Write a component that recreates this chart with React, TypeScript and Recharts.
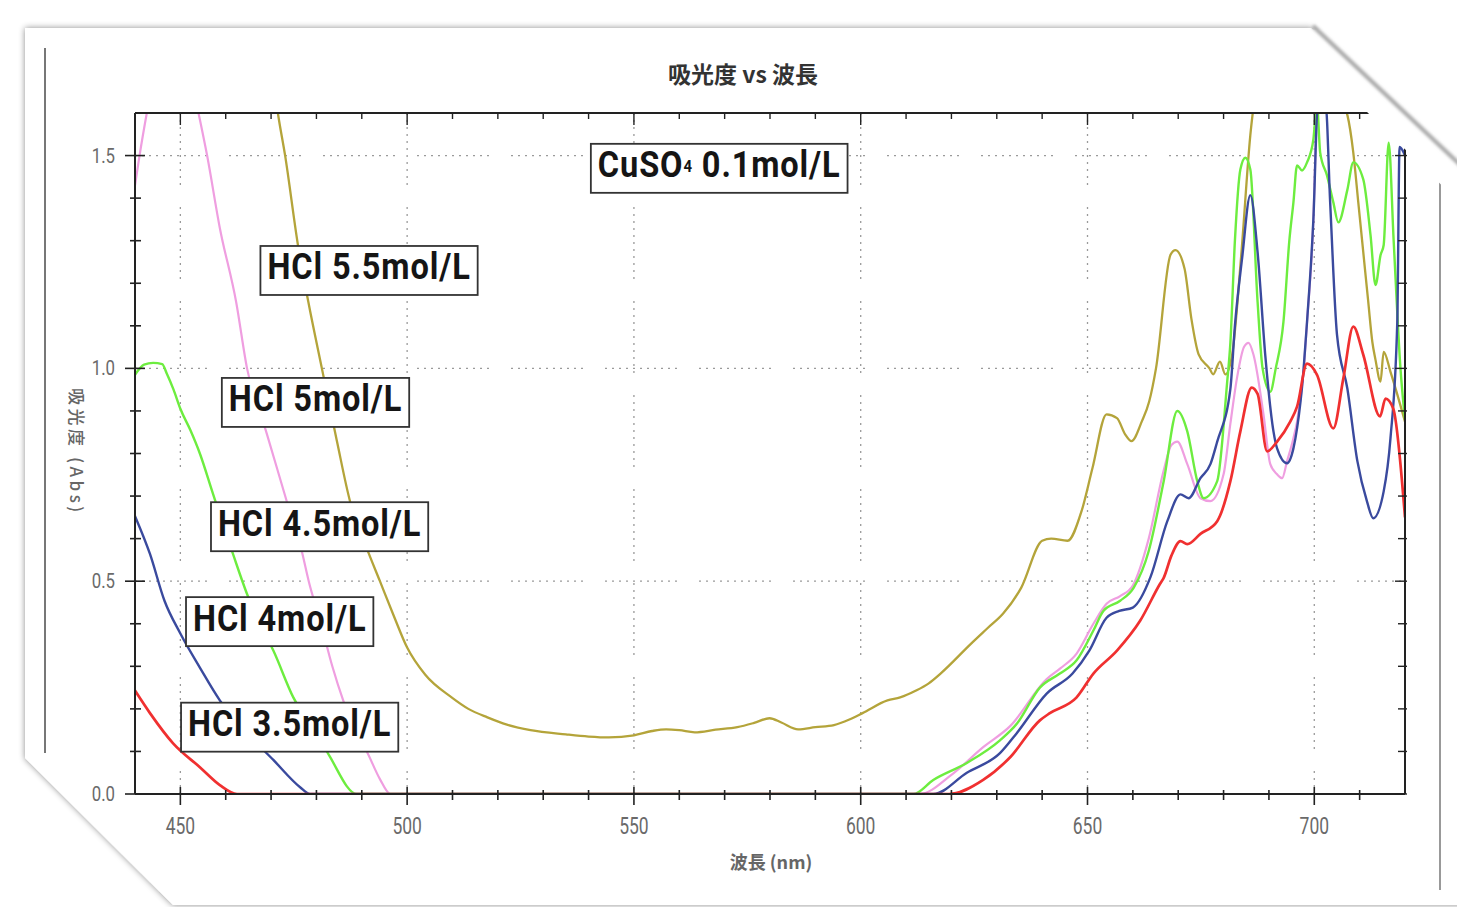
import React, { useLayoutEffect, useRef, useState } from 'react';
import { LineChart, Line, XAxis, YAxis, CartesianGrid, ReferenceDot } from 'recharts';

// ---------- axis ticks / labels ----------
const X_TICKS = [450, 460, 470, 480, 490, 500, 510, 520, 530, 540, 550, 560, 570, 580, 590, 600, 610, 620, 630, 640, 650, 660, 670, 680, 690, 700, 710];
const X_LABELED = [450, 500, 550, 600, 650, 700];
const Y_TICKS = [0, 0.1, 0.2, 0.3, 0.4, 0.5, 0.6, 0.7, 0.8, 0.9, 1.0, 1.1, 1.2, 1.3, 1.4, 1.5];
const Y_LABELED = [0, 0.5, 1.0, 1.5];
const X_DOMAIN = [440, 720];
const Y_DOMAIN = [0, 1.6];

const TITLE = '吸光度 vs 波長';
const X_TITLE = '波長 (nm)';
const Y_TITLE = '吸光度 (Abs)';

// ---------- series: [wavelength nm, absorbance] ----------
const HCL_55: [number, number][] = [
  [440, 3.6], [455, 2.6], [465, 2.0], [470, 1.72], [471.5, 1.6], [473.1, 1.5], [476.0, 1.285], [478.2, 1.157],
  [481.2, 1.0], [484.5, 0.83], [487.4, 0.688], [491, 0.58], [494.0, 0.5], [497, 0.42], [500.0, 0.344], [504, 0.28],
  [509.8, 0.227], [513.5, 0.2], [517.7, 0.18], [522, 0.163], [527.2, 0.15], [535, 0.14], [540, 0.135], [544.5, 0.133],
  [550.0, 0.138], [554, 0.148], [557.1, 0.152], [560, 0.15], [563.4, 0.145], [568, 0.151], [572.8, 0.157],
  [576.5, 0.167], [579.9, 0.178], [582.5, 0.168], [586.2, 0.152], [590, 0.157], [594.1, 0.162], [597.5, 0.175],
  [600.4, 0.19], [605.9, 0.22], [608.7, 0.227], [612.2, 0.243], [615, 0.26], [617.6, 0.283], [624.4, 0.354],
  [628, 0.39], [631.4, 0.424], [635.4, 0.485], [640.0, 0.595], [642, 0.6], [645.6, 0.595], [648.7, 0.665],
  [651.1, 0.766], [654.2, 0.892], [656.5, 0.883], [658.3, 0.845], [659.7, 0.829], [662.0, 0.876], [663.6, 0.922],
  [665.1, 1.0], [668.3, 1.267], [669.4, 1.278], [671.4, 1.234], [672.9, 1.117], [674.5, 1.033], [676.9, 1.0],
  [677.7, 0.986], [679.2, 1.016], [680.4, 0.986], [681.9, 1.033], [683.9, 1.267], [685.9, 1.548], [687, 1.65],
  [690, 1.9], [697, 2.0], [703, 1.85], [706.2, 1.62], [707.3, 1.595], [708.6, 1.507], [709.7, 1.39], [710.8, 1.273],
  [711.9, 1.156], [712.8, 1.062], [713.5, 1.02], [714.6, 0.969], [715.3, 1.039], [716.8, 0.992], [718.3, 0.939],
  [720, 0.875],
];

const HCL_50: [number, number][] = [
  [440, 1.43], [441, 1.5], [442.6, 1.6], [444, 1.68], [448, 1.75], [452, 1.7], [454, 1.6], [455.9, 1.5],
  [458.7, 1.33], [462.3, 1.156], [464.7, 1.0], [469.1, 0.845], [473.5, 0.686], [476.8, 0.569], [478.3, 0.5],
  [481, 0.4], [483.5, 0.3], [485.9, 0.22], [489, 0.14], [491.1, 0.1], [494, 0.035], [496.3, 0], [613, 0],
  [620, 0.045], [627, 0.11], [633, 0.16], [641, 0.27], [644, 0.295], [647.6, 0.33], [651.3, 0.4], [654.2, 0.447],
  [657.2, 0.465], [660, 0.49], [663.5, 0.6], [666.8, 0.76], [668.5, 0.82], [669.8, 0.828], [672, 0.775],
  [674.9, 0.695], [677.1, 0.688], [680, 0.751], [681.5, 0.87], [683, 0.98], [684.5, 1.05], [685.5, 1.06],
  [686.6, 1.032], [688.8, 0.892], [690.3, 0.775], [691.8, 0.751], [692.9, 0.742], [694, 0.782], [695.4, 0.836],
  [696.2, 0.875], [697.6, 0.99], [698.4, 1.109], [699.8, 1.35], [700.6, 1.62], [703, 1.9], [710, 2.0], [720, 2.0],
];

const HCL_45: [number, number][] = [
  [440, 0.985], [442, 1.009], [444, 1.013], [446, 1.01], [447, 0.988], [448.5, 0.95], [450, 0.905], [452.2, 0.855],
  [454.3, 0.8], [457.2, 0.705], [461.6, 0.564], [464.7, 0.47], [467.5, 0.4], [470.5, 0.337], [474.9, 0.227],
  [480.1, 0.143], [483, 0.087], [488.9, 0],
  [611.6, 0], [616, 0.033], [623.4, 0.073], [630.7, 0.126], [634.5, 0.166], [639.5, 0.25], [643.9, 0.283],
  [647.6, 0.314], [651.3, 0.384], [653.5, 0.43], [657.2, 0.454], [660.2, 0.485], [663.5, 0.571], [666.8, 0.735],
  [669.8, 0.9], [672, 0.852], [674.2, 0.735], [675.6, 0.695], [678.6, 0.735], [680.8, 0.969], [681.5, 1.06],
  [682.5, 1.3], [683.7, 1.467], [684.8, 1.495], [685.9, 1.467], [687.5, 1.156], [688.6, 1.0], [690.3, 0.945],
  [691.5, 1.0], [693.2, 1.109], [694.5, 1.3], [695.4, 1.39], [696.2, 1.477], [697.3, 1.465], [698.4, 1.484],
  [699.8, 1.538], [700.6, 1.62], [701.3, 1.507], [702.8, 1.453], [704.2, 1.39], [705.3, 1.343], [707.3, 1.42],
  [708.6, 1.484], [710.8, 1.444], [712.4, 1.313], [713.5, 1.196], [714.6, 1.266], [715.3, 1.29], [716.4, 1.53],
  [717.5, 1.3], [719, 1.0], [720, 0.88],
];

const HCL_40: [number, number][] = [
  [440, 0.653], [443.3, 0.564], [446.5, 0.454], [450, 0.377], [454.3, 0.297], [458.7, 0.22], [464.7, 0.143],
  [470.5, 0.08], [476.4, 0.016], [478.6, 0], [616, 0], [623.4, 0.05], [630.7, 0.096], [634.4, 0.143], [641, 0.236],
  [646.7, 0.283], [650.4, 0.337], [654.2, 0.414], [657, 0.43], [660, 0.438], [663.9, 0.51], [667.6, 0.641],
  [670.5, 0.704], [672.3, 0.695], [674.9, 0.742], [677.1, 0.775], [678.6, 0.828], [681.5, 0.952], [682.5, 1.1],
  [684.1, 1.26], [685.9, 1.407], [687.5, 1.273], [689.2, 1.03], [691, 0.852], [691.8, 0.812], [694, 0.777],
  [695.4, 0.812], [696.2, 0.859], [697.6, 0.992], [698.4, 1.109], [699.8, 1.35], [700.8, 1.62], [702.5, 1.62],
  [703.5, 1.39], [705, 1.08], [707.3, 0.952], [709.5, 0.782], [711.6, 0.688], [713, 0.648], [715.3, 0.711],
  [716.8, 0.836], [718.3, 1.109], [718.8, 1.52], [720, 1.5],
];

const HCL_35: [number, number][] = [
  [440, 0.243], [443.3, 0.19], [448.4, 0.119], [454.3, 0.063], [458.7, 0.021], [462.5, 0], [619.5, 0],
  [627, 0.033], [633, 0.087], [639.5, 0.173], [641.7, 0.19], [647.6, 0.227], [651.3, 0.283], [656.5, 0.337],
  [661.6, 0.407], [666, 0.494], [666.8, 0.508], [668.5, 0.56], [670.5, 0.594], [672, 0.587], [674.9, 0.611],
  [678.6, 0.641], [681.5, 0.735], [683.7, 0.852], [686.2, 0.955], [687.5, 0.94], [689.6, 0.805], [691.8, 0.828],
  [694.7, 0.875], [696.2, 0.91], [698.4, 1.011], [700.6, 0.985], [704.2, 0.859], [706.4, 0.976], [708.6, 1.098],
  [710.8, 1.032], [714.5, 0.887], [715.7, 0.929], [717.4, 0.906], [720, 0.65],
];

// ---------- annotations (anchored in data coordinates) ----------
const ANNOTATIONS = [
  { id: 'cuso4', text: 'CuSO', sub: '4', rest: ' 0.1mol/L', x: 568.8, y: 1.47 },
  { id: 'h55', text: 'HCl 5.5mol/L', sub: '', rest: '', x: 491.6, y: 1.23 },
  { id: 'h50', text: 'HCl 5mol/L', sub: '', rest: '', x: 479.8, y: 0.92 },
  { id: 'h45', text: 'HCl 4.5mol/L', sub: '', rest: '', x: 480.7, y: 0.628 },
  { id: 'h40', text: 'HCl 4mol/L', sub: '', rest: '', x: 471.9, y: 0.405 },
  { id: 'h35', text: 'HCl 3.5mol/L', sub: '', rest: '', x: 474.1, y: 0.157 },
];

const SERIES = [
  { key: 'HCl 5.5mol/L', data: HCL_55, color: '#b4a43a', width: 2.3 },
  { key: 'HCl 5mol/L', data: HCL_50, color: '#ef9ee0', width: 2.2 },
  { key: 'HCl 4.5mol/L', data: HCL_45, color: '#6ded3f', width: 2.4 },
  { key: 'HCl 4mol/L', data: HCL_40, color: '#3a4a9e', width: 2.4 },
  { key: 'HCl 3.5mol/L', data: HCL_35, color: '#f03030', width: 2.7 },
];

const SANS = "Roboto, 'Liberation Sans', sans-serif";
const CJK = "'Noto Sans CJK JP', 'Noto Sans CJK SC', sans-serif";
const AXIS_COLOR = '#222';

const isMajorX = (v: number) => X_LABELED.includes(v);
const isMajorY = (v: number) => Y_LABELED.some((m) => Math.abs(m - v) < 1e-6);

function BottomTick(props: any) {
  const { x, y, payload } = props;
  const major = isMajorX(payload.value);
  return (
    <g>
      <line x1={x} x2={x} y1={y - (major ? 7 : 4)} y2={y + (major ? 11 : 6)} stroke={AXIS_COLOR} strokeWidth={1.6} />
      {major && (
        <text transform={`translate(${x} ${y + 40}) scale(0.76 1)`} textAnchor="middle" fontFamily={SANS} fontSize={23} fill="#6a6a6a">
          {payload.value}
        </text>
      )}
    </g>
  );
}

function TopTick(props: any) {
  const { x, y, payload } = props;
  const major = isMajorX(payload.value);
  return <line x1={x} x2={x} y1={y} y2={y + (major ? 12 : 6)} stroke={AXIS_COLOR} strokeWidth={1.4} />;
}

function LeftTick(props: any) {
  const { x, y, payload } = props;
  const major = isMajorY(payload.value);
  return (
    <g>
      <line x1={x - (major ? 10 : 5)} x2={x + (major ? 10 : 6)} y1={y} y2={y} stroke={AXIS_COLOR} strokeWidth={1.6} />
      {major && (
        <text transform={`translate(${x - 20} ${y + 7}) scale(0.8 1)`} textAnchor="end" fontFamily={SANS} fontSize={21} fill="#6a6a6a">
          {Number(payload.value).toFixed(1)}
        </text>
      )}
    </g>
  );
}

function RightTick(props: any) {
  const { x, y, payload } = props;
  const major = isMajorY(payload.value);
  return <line x1={x - (major ? 10 : 7)} x2={x + 2} y1={y} y2={y} stroke={AXIS_COLOR} strokeWidth={1.4} />;
}

const BOX_SCALE = 0.88;

function BoxLabel({ cx, cy, ann }: any) {
  const ref = useRef<SVGTextElement>(null);
  const [w, setW] = useState(220);
  useLayoutEffect(() => {
    if (ref.current) {
      const b = ref.current.getBBox();
      if (Math.abs(b.width - w) > 0.5) setW(b.width);
    }
  });
  const padX = 7;
  const h = 49;
  const sw = w * BOX_SCALE;
  return (
    <g>
      <rect x={cx - sw / 2 - padX} y={cy - h / 2} width={sw + padX * 2} height={h} fill="#fff" stroke="#333" strokeWidth={1.8} />
      <text
        ref={ref}
        transform={`translate(${cx} ${cy + 9}) scale(${BOX_SCALE} 1)`}
        textAnchor="middle"
        fontFamily={SANS}
        fontWeight={700}
        fontSize={37}
        letterSpacing={1}
        fill="#151515"
      >
        {ann.text}
        {ann.sub && (
          <tspan fontSize={17} dy={-5}>
            {ann.sub}
          </tspan>
        )}
        {ann.rest && <tspan dy={ann.sub ? 5 : 0}>{ann.rest}</tspan>}
      </text>
    </g>
  );
}

const GRID_DASH = '2 5 2 5 2 5 2 5 2 5 2 5 2 5 2 5 2 5 2 5 2 22';

export default function App() {
  return (
    <div style={{ position: 'absolute', left: 0, top: 0, width: 1457, height: 907, background: '#fff', overflow: 'hidden' }}>
      {/* page frame (background) */}
      <svg width={1457} height={907} style={{ position: 'absolute', left: 0, top: 0 }}>
        <defs>
          <filter id="frameShadow" x="-5%" y="-5%" width="110%" height="110%">
            <feDropShadow dx="0" dy="0" stdDeviation="3" floodColor="#000" floodOpacity="0.45" />
          </filter>
        </defs>
        <polygon points="25,28 1311,28 1470,177 1470,905 173,905 25,758" fill="#fff" filter="url(#frameShadow)" />
        <line x1={45} y1={48} x2={45} y2={753} stroke="#777" strokeWidth={2} />
        <line x1={1440} y1={182} x2={1440} y2={890} stroke="#999" strokeWidth={2} />
      </svg>

      <div style={{ position: 'absolute', left: 0, top: 0 }}>
        <LineChart width={1457} height={907} margin={{ top: 93, right: 32, bottom: 53, left: 75 }}>
          <CartesianGrid
            stroke="#9a9a9a"
            strokeWidth={1.3}
            strokeDasharray={GRID_DASH}
            verticalValues={X_LABELED}
            horizontalValues={Y_LABELED.filter((v) => v > 0)}
          />
          <XAxis
            type="number"
            dataKey="x"
            domain={X_DOMAIN}
            allowDataOverflow
            ticks={X_TICKS}
            interval={0}
            height={60}
            tickSize={0}
            tickMargin={0}
            tickLine={false}
            axisLine={{ stroke: AXIS_COLOR, strokeWidth: 2 }}
            tick={<BottomTick />}
          />
          <XAxis
            xAxisId="top"
            orientation="top"
            type="number"
            dataKey="x"
            domain={X_DOMAIN}
            allowDataOverflow
            ticks={X_TICKS}
            interval={0}
            height={20}
            tickSize={0}
            tickMargin={0}
            tickLine={false}
            axisLine={{ stroke: AXIS_COLOR, strokeWidth: 2 }}
            tick={<TopTick />}
          />
          <YAxis
            type="number"
            domain={Y_DOMAIN}
            allowDataOverflow
            ticks={Y_TICKS}
            interval={0}
            width={60}
            tickSize={0}
            tickMargin={0}
            tickLine={false}
            axisLine={{ stroke: AXIS_COLOR, strokeWidth: 2 }}
            tick={<LeftTick />}
          />
          <YAxis
            yAxisId="right"
            orientation="right"
            type="number"
            domain={Y_DOMAIN}
            allowDataOverflow
            ticks={Y_TICKS}
            interval={0}
            width={20}
            tickSize={0}
            tickMargin={0}
            tickLine={false}
            axisLine={{ stroke: AXIS_COLOR, strokeWidth: 2 }}
            tick={<RightTick />}
          />
          {SERIES.map((s) => (
            <Line
              key={s.key}
              name={s.key}
              data={s.data.map(([x, y]) => ({ x, y }))}
              dataKey="y"
              type="monotoneX"
              stroke={s.color}
              strokeWidth={s.width}
              strokeLinejoin="round"
              dot={false}
              activeDot={false}
              isAnimationActive={false}
            />
          ))}
          {ANNOTATIONS.map((a) => (
            <ReferenceDot
              key={a.id}
              x={a.x}
              y={a.y}
              r={0}
              ifOverflow="visible"
              shape={(p: any) => <BoxLabel cx={p.cx} cy={p.cy} ann={a} />}
            />
          ))}
        </LineChart>
      </div>

      {/* titles and corner chamfer (overlay) */}
      <svg width={1457} height={907} style={{ position: 'absolute', left: 0, top: 0, pointerEvents: 'none' }}>
        <defs>
          <filter id="edgeBlur" x="-10%" y="-10%" width="120%" height="120%">
            <feGaussianBlur stdDeviation="1.6" />
          </filter>
        </defs>
        <polygon points="1283,29.5 1330,29.5 1470,160 1470,213" fill="#fff" />
        <line x1={1313} y1={26} x2={1470} y2={174} stroke="#a8a8a8" strokeWidth={4} filter="url(#edgeBlur)" />
        <text x={743} y={83} textAnchor="middle" fontFamily={CJK} fontWeight={700} fontSize={23} fill="#333">
          {TITLE}
        </text>
        <text x={771} y={869} textAnchor="middle" fontFamily={CJK} fontWeight={600} fontSize={18} fill="#666">
          {X_TITLE}
        </text>
        <text
          transform="translate(70,452) rotate(90)"
          textAnchor="middle"
          fontFamily={CJK}
          fontWeight={500}
          fontSize={17}
          letterSpacing={3.5}
          fill="#666"
        >
          {Y_TITLE}
        </text>
      </svg>
    </div>
  );
}
